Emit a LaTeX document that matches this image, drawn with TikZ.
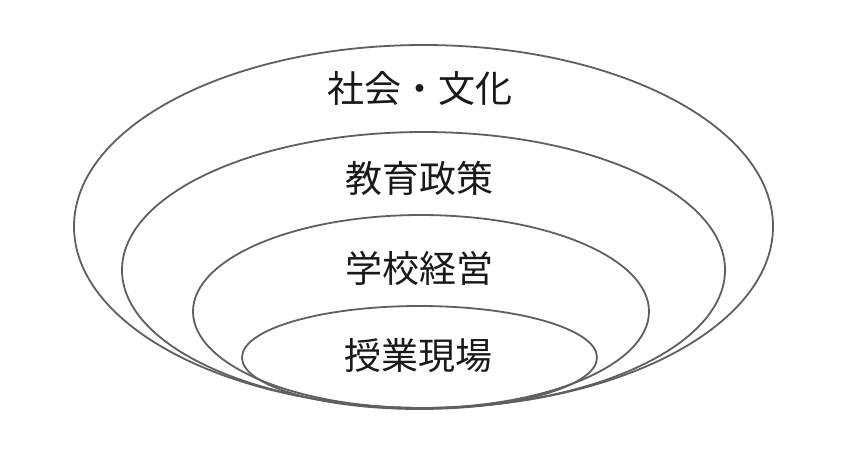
\documentclass[tikz,border=0pt]{standalone}
\usepackage{fontspec}
\newfontfamily\jp{Noto Sans CJK JP}
\definecolor{linegray}{RGB}{95,95,95}
\definecolor{txt}{RGB}{25,25,25}
\begin{document}
\begin{tikzpicture}[x=1pt,y=-1pt,
  ring/.style={draw=linegray,line width=1.8pt},
  lbl/.style={font=\jp\fontsize{37}{40}\selectfont,text=txt,inner sep=0pt,anchor=center}]
\useasboundingbox (0,0) rectangle (842,451);
\fill[white] (0,0) rectangle (842,451);
\draw[ring] (423.5,226.5) ellipse [x radius=349.5, y radius=181.5];
\draw[ring] (423.5,270) ellipse [x radius=301.5, y radius=138];
\draw[ring] (421,311.5) ellipse [x radius=228, y radius=96.5];
\draw[ring] (419.5,357.5) ellipse [x radius=177.5, y radius=51.5];
\node[lbl] (l1) at (420,88) {社会・文化};
\node[lbl] (l2) at (419,178) {教育政策};
\node[lbl] (l3) at (419,268) {学校経営};
\node[lbl] (l4) at (418,356) {授業現場};
\end{tikzpicture}
\end{document}
